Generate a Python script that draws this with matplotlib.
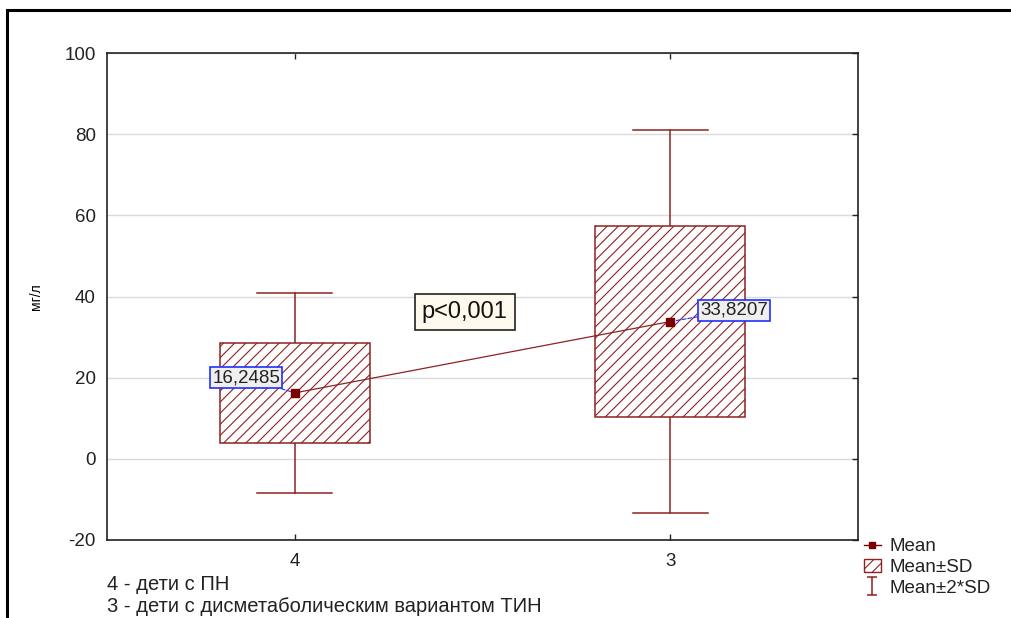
import matplotlib
matplotlib.use("Agg")
import matplotlib.pyplot as plt
from matplotlib.patches import Rectangle, Patch
from matplotlib.lines import Line2D
from matplotlib.path import Path

plt.rcParams['font.family'] = ['Liberation Sans', 'DejaVu Sans']
plt.rcParams['hatch.linewidth'] = 0.8
plt.rcParams['axes.unicode_minus'] = False

# Data
categories = ["4", "3"]
means = [16.2485, 33.8207]
sds = [12.35, 23.6]
mean_labels = ["16,2485", "33,8207"]
y_ticks = [-20, 0, 20, 40, 60, 80, 100]
y_label = "мг/л"
p_text = "p<0,001"
notes = ["4 - дети с ПН", "3 - дети с дисметаболическим вариантом ТИН"]
legend_labels = ["Mean", "Mean±SD", "Mean±2*SD"]

RED = '#8E2222'
MEAN_C = '#7A0000'
FS = 13.5

fig = plt.figure(figsize=(10.11, 6.18), dpi=100)
ax = fig.add_axes([107/1011, 1-540/618, 751/1011, 487/618])

xs = list(range(1, len(categories) + 1))
box_w = 0.4
cap_w = 0.2
for x, m, s in zip(xs, means, sds):
    # whiskers (mean ± 2SD)
    ax.plot([x, x], [m - 2*s, m - s], color=RED, lw=1.1, zorder=2)
    ax.plot([x, x], [m + s, m + 2*s], color=RED, lw=1.1, zorder=2)
    ax.plot([x - cap_w/2, x + cap_w/2], [m + 2*s]*2, color=RED, lw=1.1, zorder=2)
    ax.plot([x - cap_w/2, x + cap_w/2], [m - 2*s]*2, color=RED, lw=1.1, zorder=2)
    # box (mean ± SD)
    ax.add_patch(Rectangle((x - box_w/2, m - s), box_w, 2*s, facecolor='white',
                           edgecolor=RED, hatch='///', lw=1.1, zorder=3))

ax.plot(xs, means, color=RED, lw=0.9, zorder=4)
ax.plot(xs, means, linestyle='none', marker='s', markersize=6, color=MEAN_C, zorder=5)

offsets = [(-35, 11), (46, 8)]
for x, m, lab, off in zip(xs, means, mean_labels, offsets):
    ax.annotate(lab, xy=(x, m), xytext=off, textcoords='offset points',
                ha='center', va='center', fontsize=FS, color='#222222',
                bbox=dict(boxstyle='square,pad=0.1', facecolor='#EFEFEF', edgecolor='#2030FF', lw=1.2),
                arrowprops=dict(arrowstyle='-', color='#2030FF', lw=0.8, linestyle='--', shrinkA=0, shrinkB=3),
                zorder=6)

ax.text(1.453, 36.2, p_text, ha='center', va='center', fontsize=17, color='#111111',
        bbox=dict(boxstyle='square,pad=0.3', facecolor='#FFF8EC', edgecolor='#222222', lw=1.2), zorder=6)

ax.set_xlim(0.5, 2.5)
ax.set_ylim(-20, 100)
ax.set_xticks(xs)
ax.set_xticklabels(categories)
ax.set_yticks(y_ticks)
ax.yaxis.grid(True, color='#DADADA', lw=1.0)
ax.set_axisbelow(True)
ax.tick_params(axis='both', labelsize=FS, colors='#222222', length=4, width=1, direction='in',
               top=True, right=True, left=False, bottom=True, pad=9)
ax.tick_params(axis='y', pad=8)
for sp in ax.spines.values():
    sp.set_color('#222222')
    sp.set_linewidth(1.2)
ax.set_ylabel(y_label, fontsize=10)
ax.yaxis.set_label_coords(-0.085, 0.5)

# Notes
fig.text(107/1011, 1-585/618, notes[0], fontsize=14.5, color='#222222', va='center', ha='left')
fig.text(107/1011, 1-607/618, notes[1], fontsize=14.5, color='#222222', va='center', ha='left')

# Legend
i_path = Path([(-0.6, 1), (0.6, 1), (0, 1), (0, -1), (-0.6, -1), (0.6, -1)],
              [Path.MOVETO, Path.LINETO, Path.MOVETO, Path.LINETO, Path.MOVETO, Path.LINETO])
handles = [
    Line2D([], [], color=MEAN_C, lw=1, marker='s', markersize=5),
    Patch(facecolor='white', edgecolor=RED, hatch='///', lw=1),
    Line2D([], [], color=RED, lw=0, marker=i_path, markersize=12.5, markeredgewidth=1.1),
]
leg = fig.legend(handles, legend_labels, loc='upper left', bbox_to_anchor=(864/1011, 1-538/618),
                 frameon=False, fontsize=FS, handlelength=0.9, handletextpad=0.45,
                 labelspacing=0.2, borderaxespad=0, borderpad=0)
for t in leg.get_texts():
    t.set_color('#222222')

# Outer frame (top and left edges visible)
fig.add_artist(Line2D([7/1011, 7/1011], [0, 1-10/618], transform=fig.transFigure, color='black', lw=2.2))
fig.add_artist(Line2D([7/1011, 1], [1-10/618, 1-10/618], transform=fig.transFigure, color='black', lw=2.2))

fig.savefig('out.png', dpi=100, facecolor='white')
